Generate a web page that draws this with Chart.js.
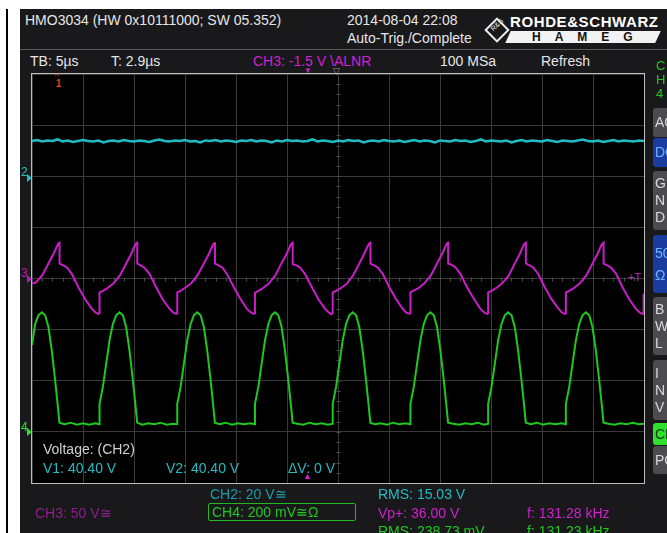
<!DOCTYPE html>
<html>
<head>
<meta charset="utf-8">
<script src="https://cdn.jsdelivr.net/npm/chart.js@4.4.1/dist/chart.umd.min.js"></script>
<style>
  body { margin: 0; width: 667px; height: 533px; background: #fff; position: relative; overflow: hidden;
         font-family: "Liberation Sans", Arial, sans-serif; }
  .abs { position: absolute; }
  .t { position: absolute; white-space: nowrap; font-size: 14px; line-height: 16px; color: #e6e6e6; }
  #screen { left: 20px; top: 9px; width: 647px; height: 524px; background: #19181b; }
  #sep { left: 20px; top: 49px; width: 647px; height: 1px; background: #5a5a5a; }
  #frame { left: 31px; top: 73px; width: 612px; height: 409px; border: 1px solid #bdbdbd; background: #000; }
  #plot { position: absolute; left: 0; top: 0; }
  .btn { position: absolute; left: 653px; width: 24px; border-radius: 3px; background: #4c4c4e;
         color: #d8d8d8; font-size: 14px; line-height: 17px; padding-left: 2px; box-sizing: border-box; }
  .blue { background: #1b3c9e; color: #6fb4ff; }
  .cy { color: #21bcc4; }
  .mg { color: #d21fd2; }
  .gr { color: #22c822; }
</style>
</head>
<body>
<div class="abs" style="left:6px;top:9px;width:2px;height:524px;background:#000"></div>
<div id="screen" class="abs"></div>
<div id="sep" class="abs"></div>

<!-- header -->
<div class="t" style="left:25px;top:12px">HMO3034 (HW 0x10111000; SW 05.352)</div>
<div class="t" style="left:347px;top:12px">2014-08-04 22:08</div>
<div class="t" style="left:347px;top:30px">Auto-Trig./Complete</div>
<div class="abs" style="left:488px;top:21px;width:14px;height:14px;border:2px solid #eee;transform:rotate(45deg)"></div>
<div class="t" style="left:490px;top:21px;font-size:7px;line-height:8px;transform:rotate(-45deg);color:#eee">R&amp;S</div>
<div class="t" style="left:510px;top:14px;font-size:15px;font-weight:bold;color:#fff;letter-spacing:0.6px">ROHDE&amp;SCHWARZ</div>
<div class="abs" style="left:508px;top:31px;width:150px;height:12px;background:#f2f2f2;transform:skewX(-25deg)"></div>
<div class="t" style="left:532px;top:30px;font-size:12px;line-height:14px;font-weight:bold;color:#111;letter-spacing:14px">HAMEG</div>

<!-- second row -->
<div class="t" style="left:30px;top:53px">TB: 5µs</div>
<div class="t" style="left:111px;top:53px">T: 2.9µs</div>
<div class="t mg" style="left:253px;top:53px">CH3: -1.5 V \ALNR</div>
<div class="t" style="left:440px;top:53px">100 MSa</div>
<div class="t" style="left:541px;top:53px">Refresh</div>

<!-- plot -->
<div id="frame" class="abs"><canvas id="plot" width="612" height="409"></canvas></div>

<!-- markers -->
<div class="t" style="left:55px;top:72px;font-size:8px;line-height:8px;color:#e0501a">^</div>
<div class="t" style="left:56px;top:79px;font-size:10px;line-height:10px;font-weight:bold;color:#e0501a">1</div>
<div class="t mg" style="left:304px;top:67px;font-size:8px;line-height:8px">▼</div>
<div class="t" style="left:333px;top:67px;font-size:9px;line-height:9px;color:#9a9a9a">▽</div>
<div class="t cy" style="left:21px;top:166px;font-size:12px;line-height:12px">2</div>
<div class="abs" style="left:27px;top:174px;border-left:5px solid #21bcc4;border-top:4px solid transparent;border-bottom:4px solid transparent"></div>
<div class="t mg" style="left:21px;top:267px;font-size:12px;line-height:12px;color:#b01cb0">3</div>
<div class="abs" style="left:27px;top:275px;border-left:5px solid #b01cb0;border-top:4px solid transparent;border-bottom:4px solid transparent"></div>
<div class="t gr" style="left:21px;top:421px;font-size:12px;line-height:12px;color:#2ee02e">4</div>
<div class="abs" style="left:27px;top:428px;border-left:5px solid #2ee02e;border-top:4px solid transparent;border-bottom:4px solid transparent"></div>
<div class="t mg" style="left:628px;top:271px;font-size:11px;line-height:12px">+T</div>

<!-- cursor readout -->
<div class="t" style="left:43px;top:441px;color:#d0d0d0">Voltage: (CH2)</div>
<div class="t cy" style="left:43px;top:460px">V1: 40.40 V</div>
<div class="t cy" style="left:166px;top:460px">V2: 40.40 V</div>
<div class="t cy" style="left:288px;top:460px">ΔV: 0 V</div>
<div class="t mg" style="left:303px;top:472px;font-size:9px;line-height:9px">▲</div>

<!-- channel settings / measurements -->
<div class="t" style="left:210px;top:486px;color:#1d9ea6">CH2: 20 V≅</div>
<div class="abs" style="left:208px;top:503px;width:146px;height:16px;border:1.5px solid #22b822;border-radius:2px"></div>
<div class="t gr" style="left:212px;top:504px">CH4: 200 mV≅Ω</div>
<div class="t" style="left:35px;top:505px;color:#8e1f8e">CH3: 50 V≅</div>
<div class="t cy" style="left:378px;top:486px">RMS: 15.03 V</div>
<div class="t mg" style="left:378px;top:505px">Vp+: 36.00 V</div>
<div class="t gr" style="left:378px;top:523px">RMS: 238.73 mV</div>
<div class="t mg" style="left:527px;top:505px">f: 131.28 kHz</div>
<div class="t gr" style="left:527px;top:523px">f: 131.23 kHz</div>

<!-- right side menu -->
<div class="t gr" style="left:656px;top:59px;font-size:13px;line-height:14px">C<br>H<br>4</div>
<div class="btn" style="top:108px;height:29px;padding-top:6px">AC</div>
<div class="btn blue" style="top:138px;height:29px;padding-top:6px">DC</div>
<div class="btn" style="top:171px;height:59px;padding-top:4px">G<br>N<br>D</div>
<div class="btn blue" style="top:235px;height:58px;padding-top:7px;line-height:22px">50<br>Ω</div>
<div class="btn" style="top:297px;height:58px;padding-top:4px">B<br>W<br>L</div>
<div class="btn" style="top:360px;height:60px;padding-top:5px">I<br>N<br>V</div>
<div class="btn" style="top:423px;height:22px;padding-top:3px;background:#2fe02f;color:#0a3a0a">CH</div>
<div class="btn" style="top:446px;height:28px;padding-top:6px">PO</div>

<script>
// time in µs across the 12 divisions (5 µs/div), values in screen divisions
const ch2Time = [0,0.5,1,1.5,2,2.5,3,3.5,4,4.5,5,5.5,6,6.5,7,7.5,8,8.5,9,9.5,10,10.5,11,11.5,12,12.5,13,13.5,14,14.5,
  15,15.5,16,16.5,17,17.5,18,18.5,19,19.5,20,20.5,21,21.5,22,22.5,23,23.5,24,24.5,25,25.5,26,26.5,27,27.5,28,28.5,29,29.5,
  30,30.5,31,31.5,32,32.5,33,33.5,34,34.5,35,35.5,36,36.5,37,37.5,38,38.5,39,39.5,40,40.5,41,41.5,42,42.5,43,43.5,44,44.5,
  45,45.5,46,46.5,47,47.5,48,48.5,49,49.5,50,50.5,51,51.5,52,52.5,53,53.5,54,54.5,55,55.5,56,56.5,57,57.5,58,58.5,59,59.5,60];
const ch2Volt = [2.69,2.71,2.68,2.70,2.69,2.72,2.68,2.70,2.67,2.69,2.71,2.69,2.68,2.70,2.66,2.69,2.70,2.68,2.71,2.69,
  2.68,2.70,2.69,2.67,2.70,2.72,2.69,2.68,2.70,2.69,2.71,2.68,2.69,2.66,2.70,2.69,2.71,2.68,2.70,2.69,
  2.67,2.70,2.69,2.71,2.68,2.70,2.69,2.66,2.70,2.68,2.71,2.69,2.70,2.68,2.69,2.72,2.68,2.70,2.69,2.67,
  2.70,2.68,2.71,2.69,2.70,2.66,2.69,2.70,2.68,2.71,2.69,2.68,2.70,2.67,2.69,2.71,2.68,2.70,2.69,2.66,
  2.70,2.69,2.68,2.71,2.69,2.70,2.67,2.69,2.72,2.68,2.70,2.69,2.68,2.70,2.66,2.69,2.71,2.68,2.70,2.69,
  2.68,2.71,2.69,2.67,2.70,2.69,2.68,2.70,2.72,2.69,2.68,2.70,2.67,2.69,2.71,2.68,2.70,2.69,2.68,2.70,2.69];

const ch3Time = [0.00,0.35,1.00,1.60,2.10,2.45,2.60,2.70,2.70,2.92,3.40,3.90,4.55,5.20,5.85,6.20,6.50,6.62,
  6.62,6.87,7.32,7.97,8.62,9.22,9.72,10.07,10.22,10.32,10.32,10.54,11.02,11.52,12.17,12.82,13.47,13.82,14.12,14.24,
  14.24,14.49,14.94,15.59,16.24,16.84,17.34,17.69,17.84,17.94,17.94,18.16,18.64,19.14,19.79,20.44,21.09,21.44,21.74,21.86,
  21.86,22.11,22.56,23.21,23.86,24.46,24.96,25.31,25.46,25.56,25.56,25.78,26.26,26.76,27.41,28.06,28.71,29.06,29.36,29.48,
  29.48,29.73,30.18,30.83,31.48,32.08,32.58,32.93,33.08,33.18,33.18,33.40,33.88,34.38,35.03,35.68,36.33,36.68,36.98,37.10,
  37.10,37.35,37.80,38.45,39.10,39.70,40.20,40.55,40.70,40.80,40.80,41.02,41.50,42.00,42.65,43.30,43.95,44.30,44.60,44.72,
  44.72,44.97,45.42,46.07,46.72,47.32,47.82,48.17,48.32,48.42,48.42,48.64,49.12,49.62,50.27,50.92,51.57,51.92,52.22,52.34,
  52.34,52.59,53.04,53.69,54.34,54.94,55.44,55.79,55.94,56.04,56.04,56.26,56.74,57.24,57.89,58.54,59.19,59.54,59.84,59.96,59.96];
const ch3Volt = [-0.10,-0.08,0.06,0.29,0.48,0.63,0.69,0.70,0.29,0.27,0.22,0.09,-0.17,-0.40,-0.59,-0.66,-0.69,-0.68,
  -0.27,-0.25,-0.20,-0.10,0.06,0.29,0.48,0.64,0.69,0.70,0.29,0.27,0.21,0.09,-0.17,-0.41,-0.59,-0.66,-0.69,-0.68,
  -0.27,-0.25,-0.19,-0.10,0.07,0.29,0.48,0.64,0.69,0.69,0.29,0.27,0.22,0.08,-0.17,-0.40,-0.60,-0.66,-0.69,-0.68,
  -0.28,-0.25,-0.20,-0.10,0.06,0.30,0.48,0.64,0.69,0.70,0.28,0.27,0.22,0.09,-0.16,-0.40,-0.59,-0.66,-0.70,-0.68,
  -0.27,-0.25,-0.20,-0.11,0.06,0.29,0.49,0.64,0.69,0.70,0.29,0.27,0.22,0.09,-0.17,-0.40,-0.59,-0.67,-0.69,-0.68,
  -0.27,-0.24,-0.20,-0.10,0.06,0.29,0.48,0.63,0.69,0.70,0.29,0.28,0.22,0.09,-0.17,-0.39,-0.59,-0.66,-0.69,-0.68,
  -0.27,-0.25,-0.20,-0.10,0.05,0.29,0.48,0.64,0.69,0.70,0.30,0.27,0.22,0.09,-0.17,-0.40,-0.58,-0.66,-0.69,-0.68,
  -0.27,-0.25,-0.20,-0.10,0.06,0.29,0.48,0.64,0.68,0.70,0.29,0.27,0.22,0.10,-0.17,-0.40,-0.59,-0.66,-0.69,-0.68,-0.30];

const ch4Time = [0.00,0.31,0.63,0.96,1.29,1.61,1.94,2.27,2.53,2.69,3.20,3.80,4.40,5.00,5.60,6.20,6.62,
  6.62,6.95,7.27,7.60,7.93,8.25,8.58,8.91,9.23,9.56,9.89,10.15,10.31,10.80,11.40,12.00,12.60,13.20,13.80,14.24,
  14.24,14.57,14.89,15.22,15.55,15.87,16.20,16.53,16.85,17.18,17.51,17.77,17.93,18.40,19.00,19.60,20.20,20.80,21.40,21.86,
  21.86,22.19,22.51,22.84,23.17,23.49,23.82,24.15,24.47,24.80,25.13,25.39,25.55,26.00,26.60,27.20,27.80,28.40,29.00,29.48,
  29.48,29.81,30.13,30.46,30.79,31.11,31.44,31.77,32.09,32.42,32.75,33.01,33.17,33.60,34.20,34.80,35.40,36.00,36.60,37.10,
  37.10,37.43,37.75,38.08,38.41,38.73,39.06,39.39,39.71,40.04,40.37,40.63,40.79,41.30,41.90,42.50,43.10,43.70,44.30,44.72,
  44.72,45.05,45.37,45.70,46.03,46.35,46.68,47.01,47.33,47.66,47.99,48.25,48.41,48.90,49.50,50.10,50.70,51.30,51.90,52.34,
  52.34,52.67,52.99,53.32,53.65,53.97,54.30,54.63,54.95,55.28,55.61,55.87,56.03,56.50,57.10,57.70,58.30,58.90,59.50,60.00];
const ch4Volt = [-1.30,-0.89,-0.72,-0.66,-0.72,-0.95,-1.41,-1.99,-2.49,-2.82,-2.85,-2.82,-2.86,-2.83,-2.86,-2.83,-2.85,
  -2.45,-2.12,-1.67,-1.21,-0.89,-0.72,-0.66,-0.72,-0.95,-1.41,-1.99,-2.49,-2.82,-2.86,-2.83,-2.85,-2.82,-2.86,-2.84,-2.85,
  -2.45,-2.12,-1.67,-1.21,-0.89,-0.72,-0.66,-0.72,-0.95,-1.41,-1.99,-2.49,-2.82,-2.85,-2.82,-2.86,-2.83,-2.85,-2.83,-2.85,
  -2.45,-2.12,-1.67,-1.21,-0.89,-0.72,-0.66,-0.72,-0.95,-1.41,-1.99,-2.49,-2.82,-2.84,-2.86,-2.82,-2.85,-2.83,-2.86,-2.84,
  -2.45,-2.12,-1.67,-1.21,-0.89,-0.72,-0.66,-0.72,-0.95,-1.41,-1.99,-2.49,-2.82,-2.85,-2.83,-2.86,-2.82,-2.85,-2.83,-2.85,
  -2.45,-2.12,-1.67,-1.21,-0.89,-0.72,-0.66,-0.72,-0.95,-1.41,-1.99,-2.49,-2.82,-2.84,-2.86,-2.83,-2.85,-2.82,-2.86,-2.84,
  -2.45,-2.12,-1.67,-1.21,-0.89,-0.72,-0.66,-0.72,-0.95,-1.41,-1.99,-2.49,-2.82,-2.85,-2.82,-2.86,-2.83,-2.85,-2.83,-2.85,
  -2.45,-2.12,-1.67,-1.21,-0.89,-0.72,-0.66,-0.72,-0.95,-1.41,-1.99,-2.49,-2.82,-2.84,-2.86,-2.83,-2.85,-2.82,-2.85,-2.84];

const toPoints = (ts, vs) => ts.map((t, i) => ({ x: t, y: vs[i] }));

// small ticks along the centre axes, like the scope graticule
const centreTicks = {
  id: 'centreTicks',
  beforeDatasetsDraw(chart) {
    const { ctx, scales: { x, y } } = chart;
    const y0 = Math.round(y.getPixelForValue(0)) + 0.5;
    const x0 = Math.round(x.getPixelForValue(30)) + 0.5;
    ctx.save();
    ctx.strokeStyle = '#4a4a4a';
    ctx.lineWidth = 1;
    ctx.beginPath();
    for (let t = 0; t <= 60; t += 1) {
      const px = Math.round(x.getPixelForValue(t)) + 0.5;
      ctx.moveTo(px, y0 - 2); ctx.lineTo(px, y0 + 2);
    }
    for (let d = -4; d <= 4.001; d += 0.2) {
      const py = Math.round(y.getPixelForValue(d)) + 0.5;
      ctx.moveTo(x0 - 2, py); ctx.lineTo(x0 + 2, py);
    }
    ctx.stroke();
    ctx.restore();
  }
};

new Chart(document.getElementById('plot'), {
  type: 'line',
  data: {
    datasets: [
      { label: 'CH2', data: toPoints(ch2Time, ch2Volt), borderColor: '#1fbcc4', borderWidth: 2.5 },
      { label: 'CH3', data: toPoints(ch3Time, ch3Volt), borderColor: '#c81ec8', borderWidth: 2 },
      { label: 'CH4', data: toPoints(ch4Time, ch4Volt), borderColor: '#1ec81e', borderWidth: 2 }
    ]
  },
  options: {
    responsive: false,
    animation: false,
    layout: { padding: 0 },
    elements: {
      line: { tension: 0 },
      point: { radius: 0, hitRadius: 0, hoverRadius: 0 }
    },
    plugins: {
      legend: { display: false },
      tooltip: { enabled: false }
    },
    scales: {
      x: {
        type: 'linear', min: 0, max: 60,
        ticks: { display: false, stepSize: 5 },
        grid: { color: '#3a3a3a', drawTicks: false },
        border: { display: false }
      },
      y: {
        type: 'linear', min: -4, max: 4,
        ticks: { display: false, stepSize: 1 },
        grid: { color: '#3a3a3a', drawTicks: false },
        border: { display: false }
      }
    }
  },
  plugins: [centreTicks]
});
</script>
</body>
</html>
